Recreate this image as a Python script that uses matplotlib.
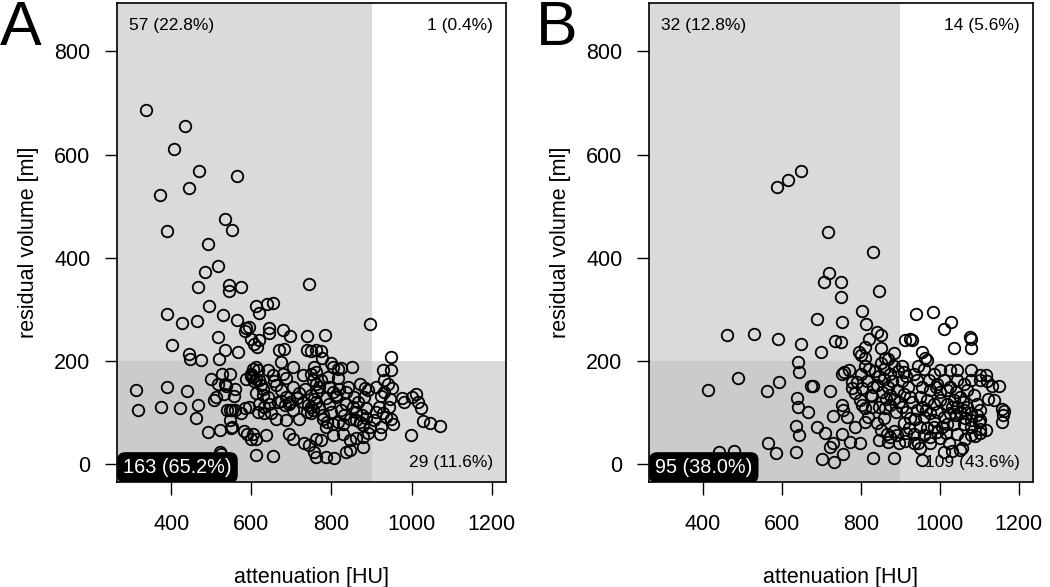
import numpy as np
import matplotlib.pyplot as plt

plt.rcParams['font.family'] = ['Liberation Sans', 'DejaVu Sans']

# attenuation [HU], residual volume [ml], panel A
pts_a = np.array([
    # upper left
    (337, 687), (434, 655), (407, 610), (468, 568), (564, 558), (443, 535), (372, 522),
    (534, 476), (551, 454), (389, 451), (492, 426), (517, 384), (483, 372), (467, 343),
    (545, 347), (575, 344), (544, 335), (743, 349), (493, 306), (612, 307), (618, 292),
    (638, 311), (653, 313), (389, 291), (427, 274), (463, 278), (530, 289), (563, 280),
    (897, 272), (587, 263), (585, 257), (645, 263), (645, 253), (678, 260), (697, 249),
    (738, 249), (785, 250), (517, 247), (402, 231), (535, 221), (566, 218), (444, 214),
    (446, 203), (473, 201), (519, 204), (600, 242), (607, 232), (615, 226), (668, 221),
    (682, 223), (740, 221), (748, 220), (762, 221), (775, 219), (777, 206), (595, 266),
    (620, 240),
    # upper right
    (949, 208),
    # lower left
    (312, 144), (317, 104), (390, 150), (373, 111), (421, 109), (439, 142), (467, 114),
    (462, 90), (492, 62), (521, 65), (550, 69), (521, 23), (523, 19), (498, 164),
    (527, 174), (546, 174), (517, 156), (533, 156), (537, 151), (558, 146), (506, 124),
    (512, 129), (531, 135), (556, 131), (538, 104), (546, 104), (552, 104), (558, 104),
    (575, 99), (583, 109), (546, 86), (552, 72), (582, 64), (588, 59), (600, 49),
    (612, 17), (586, 164), (600, 175), (605, 185), (612, 164), (598, 170), (655, 16),
    (674, 198), (612, 188), (617, 182), (641, 182), (703, 188), (757, 188), (762, 179),
    (799, 195), (803, 188), (816, 185), (824, 187), (852, 188),
    (603, 169), (607, 160), (620, 163), (624, 153), (628, 146), (653, 172), (657, 161),
    (662, 153), (678, 175), (687, 166), (728, 172), (749, 175), (753, 163), (762, 156),
    (774, 163), (791, 169), (795, 150), (816, 166), (820, 146), (837, 140), (812, 133),
    (870, 156), (883, 147), (891, 143),
    (612, 137), (628, 134), (641, 130), (674, 143), (687, 130), (695, 117), (720, 138),
    (749, 133), (757, 126), (762, 120), (787, 127), (795, 117), (812, 130), (837, 117),
    (853, 111),
    (620, 117), (632, 111), (645, 117), (666, 120), (674, 123), (683, 114), (697, 121),
    (728, 120), (741, 114), (749, 111),
    (595, 111), (616, 101), (632, 98), (649, 98), (662, 88), (687, 85), (720, 88),
    (749, 98), (753, 104),
    (778, 88), (790, 82), (803, 78), (816, 82), (828, 78), (845, 88), (862, 85),
    (870, 82), (887, 108), (878, 75), (895, 72),
    (603, 59), (637, 56), (612, 49), (695, 59), (703, 49), (732, 40), (745, 36),
    (762, 49), (774, 46), (787, 72), (803, 56),
    (828, 59), (845, 46), (862, 50), (878, 53),
    (757, 24), (762, 14), (787, 13), (807, 12), (837, 24), (845, 28), (878, 33),
    (705, 150), (715, 128), (735, 145), (740, 100), (765, 140), (770, 108), (780, 95),
    (800, 100), (805, 140), (825, 105), (830, 95), (840, 150), (855, 130), (860, 100),
    (865, 120), (875, 95), (880, 130), (885, 90), (890, 60), (705, 105), (770, 150),
    # lower right
    (928, 182), (949, 182), (932, 162), (940, 155), (952, 148), (924, 131), (943, 111),
    (928, 98), (936, 92), (948, 88), (953, 78), (924, 72), (920, 59), (977, 127),
    (980, 120), (1002, 130), (1010, 135), (1016, 120), (1024, 108), (1028, 84),
    (1047, 80), (1072, 73), (999, 57), (912, 100), (905, 85), (918, 110), (930, 140),
    (945, 125), (910, 150),
])

# panel B
pts_b = np.array([
    # upper left
    (588, 537), (616, 550), (649, 568), (717, 450), (832, 411), (719, 370), (708, 352),
    (750, 352), (845, 336), (750, 324), (690, 282), (752, 276), (804, 297), (813, 271),
    (840, 256), (850, 250), (462, 251), (530, 252), (590, 243), (650, 232), (736, 239),
    (750, 236), (850, 225), (810, 227), (795, 218), (800, 212), (812, 205), (700, 218),
    (883, 216), (862, 205), (870, 203), (820, 243),
    # upper right
    (940, 291), (983, 295), (1010, 261), (1028, 275), (1035, 224), (1077, 247),
    (1080, 243), (1079, 224), (925, 243), (929, 241), (955, 218), (962, 205),
    (968, 202), (912, 240),
    # lower left
    (489, 166), (413, 143), (592, 159), (563, 142), (565, 40), (586, 22), (442, 23),
    (478, 25), (639, 127), (641, 111), (635, 73), (643, 56), (635, 23), (641, 198),
    (643, 179), (673, 152), (678, 151), (752, 175), (757, 179), (769, 182), (722, 142),
    (667, 101), (777, 159), (790, 159), (802, 147), (777, 147), (785, 137), (841, 153),
    (870, 150), (874, 133), (891, 143), (826, 133), (828, 131), (798, 124), (802, 114),
    (811, 108), (828, 111), (845, 111), (862, 108), (874, 114), (896, 121), (752, 114),
    (756, 104), (764, 91), (730, 93), (688, 72), (709, 60), (752, 59), (785, 72),
    (811, 82), (819, 91), (866, 59), (874, 52), (883, 63), (891, 57), (773, 43),
    (798, 40), (722, 33), (730, 40), (701, 9), (733, 4), (756, 20), (832, 12), (883, 11),
    (845, 46), (870, 43), (896, 40), (800, 175), (810, 190), (820, 185), (835, 180),
    (850, 195), (860, 185), (875, 175), (885, 190), (895, 180), (880, 160), (860, 165),
    (845, 170), (815, 160), (830, 150), (855, 140), (865, 125), (885, 125), (890, 100),
    (860, 90), (840, 80), (850, 65),
    # lower right
    (1001, 182), (1027, 183), (1044, 182), (1078, 183), (1116, 172), (1120, 160),
    (1150, 151), (1137, 124), (1158, 107), (1162, 103), (1158, 82), (1160, 95),
    (1118, 66), (1103, 60), (1090, 54), (1080, 56), (1080, 72), (1099, 82), (1052, 27),
    (1056, 30), (1031, 25), (1010, 23), (1023, 41), (946, 40), (951, 30), (976, 40),
    (955, 8), (1101, 172), (1103, 163), (1133, 152), (1122, 126), (1101, 67), (912, 45),
    (915, 60), (921, 70),
    (905, 190), (910, 178), (915, 170), (905, 160), (920, 150), (910, 135), (925, 130),
    (905, 110), (915, 100), (925, 90), (910, 80), (930, 120), (935, 175), (945, 190),
    (960, 185), (985, 175), (990, 150), (1000, 140), (1040, 140), (1060, 120),
    (1070, 110), (1050, 100), (1030, 110), (1015, 60), (1000, 50), (950, 130),
    (965, 105), (985, 85), (1040, 95), (1065, 90),
    (942, 163), (955, 150), (972, 163), (976, 143), (993, 156), (1010, 163), (1018, 143),
    (1027, 150), (1044, 163), (1061, 156), (1069, 143), (1078, 163), (1086, 133),
    (1095, 117), (1103, 104), (1052, 130), (1035, 124), (1018, 117), (1001, 124),
    (985, 117), (968, 124), (955, 111), (942, 104), (938, 88), (959, 91), (976, 98),
    (993, 101), (1010, 91), (1027, 98), (1044, 111), (1061, 104), (1078, 98), (1095, 95),
    (1103, 85), (951, 72), (968, 69), (985, 72), (1006, 72), (1018, 78), (1035, 78),
    (1061, 78), (1078, 85), (934, 59), (959, 56), (976, 53), (993, 62), (1044, 59),
    (1065, 49), (934, 40),
])

# quadrant labels: upper left, upper right, lower left, lower right
counts_a = ['57 (22.8%)', '1 (0.4%)', '163 (65.2%)', '29 (11.6%)']
counts_b = ['32 (12.8%)', '14 (5.6%)', '95 (38.0%)', '109 (43.6%)']

hu_cut = 900
vol_cut = 200
x_ticks = [400, 600, 800, 1000, 1200]
y_ticks = [0, 200, 400, 600, 800]
xlim = (264, 1236)
ylim = (-35, 894)

fig = plt.figure(figsize=(10.5, 5.87), dpi=100)


def panel(rect, pts, counts, letter, letter_x):
    ax = fig.add_axes(rect)
    ax.set_xlim(xlim)
    ax.set_ylim(ylim)

    # shaded zones
    ax.axvspan(xlim[0], hu_cut, color='#dadada', lw=0, zorder=0)
    ax.axhspan(ylim[0], vol_cut, color='#dadada', lw=0, zorder=0)
    ax.fill_between([xlim[0], hu_cut], ylim[0], vol_cut, color='#cbcbcb', lw=0, zorder=0)

    ax.plot(pts[:, 0], pts[:, 1], 'o', mfc='none', mec='black', ms=8.3, mew=1.3, zorder=2)

    ax.set_xticks(x_ticks)
    ax.set_yticks(y_ticks)
    ax.tick_params(direction='out', length=9, width=1, labelsize=15.5)
    ax.tick_params(axis='x', pad=14)
    ax.tick_params(axis='y', pad=10)
    for s in ax.spines.values():
        s.set_linewidth(1.2)

    ax_w = rect[2] * 1050
    ax.set_xlabel('attenuation [HU]', fontsize=15.5)
    ax.xaxis.set_label_coords(0.5, -0.177)
    ax.set_ylabel('residual volume [ml]', fontsize=15.5)
    ax.yaxis.set_label_coords(-78 / ax_w, 0.5)

    ax.text(0.031, 0.954, counts[0], transform=ax.transAxes, fontsize=12.5,
            va='center', ha='left')
    ax.text(0.966, 0.954, counts[1], transform=ax.transAxes, fontsize=12.5,
            va='center', ha='right')
    ax.text(0.966, 0.04, counts[3], transform=ax.transAxes, fontsize=12.5,
            va='center', ha='right', zorder=3)
    ax.text(0.016, 0.030, counts[2], transform=ax.transAxes, fontsize=14.3,
            color='white', va='center', ha='left', zorder=5, clip_on=True,
            bbox=dict(boxstyle='round,pad=0.3,rounding_size=0.4', fc='black', ec='none'))

    fig.text(letter_x, 0.923, letter, fontsize=45, va='baseline', ha='left')
    return ax


panel([0.1114, 0.1789, 0.3705, 0.8160], pts_a, counts_a, 'A', 0.0)
panel([0.6181, 0.1789, 0.3657, 0.8160], pts_b, counts_b, 'B', 0.510)

fig.savefig('out.png', dpi=100)
